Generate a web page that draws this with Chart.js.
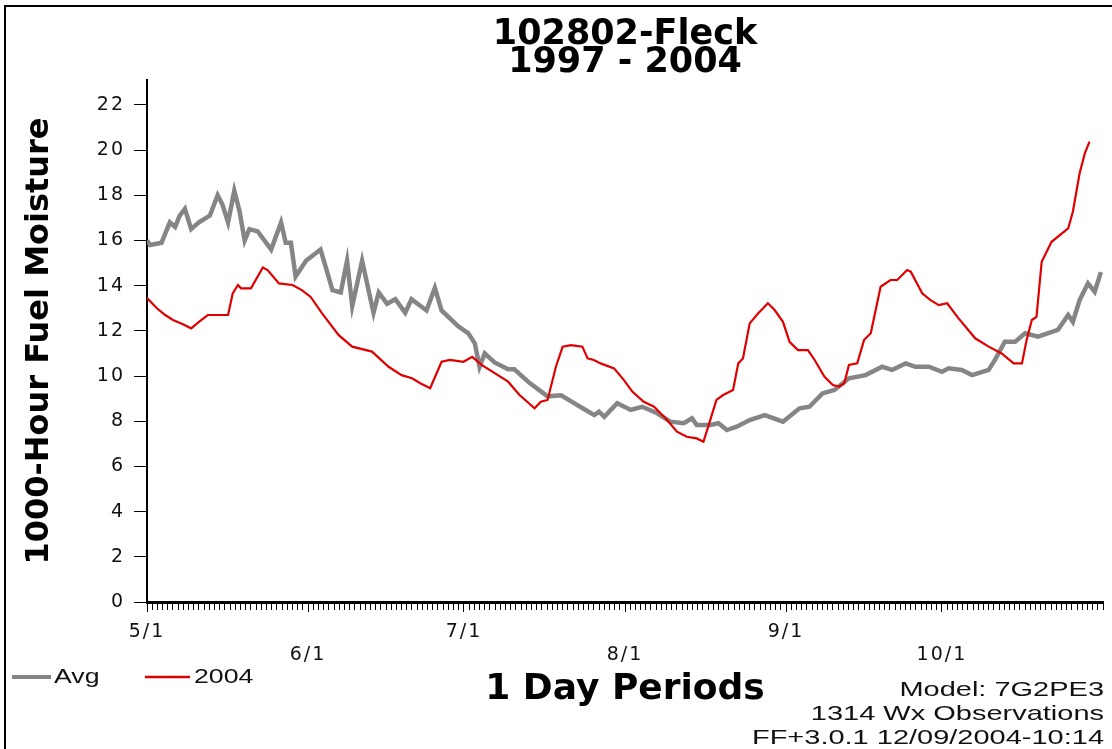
<!DOCTYPE html>
<html>
<head>
<meta charset="utf-8">
<script src="https://cdn.jsdelivr.net/npm/chart.js@4.4.1/dist/chart.umd.min.js"></script>
<style>
html,body{margin:0;padding:0;background:#fff;overflow:hidden}
canvas{display:block}
</style>
</head>
<body>
<canvas id="c" width="1112" height="749"></canvas>
<script>
// ---------- data ----------
const titleLines = ['102802-Fleck', '1997 - 2004'];
const yAxisTitle = '1000-Hour Fuel Moisture';
const xAxisTitle = '1 Day Periods';
const footnotes = ['Model: 7G2PE3', '1314 Wx Observations', 'FF+3.0.1 12/09/2004-10:14'];
const seriesNames = ['Avg', '2004'];

// day index counted from 5/1
const monthDays = [0, 31, 61, 92, 123, 153];
const monthLabels = ['5/1', '6/1', '7/1', '8/1', '9/1', '10/1'];
const lastDay = 184;
const yMin = 0;
const yMax = 23.1;
const yStep = 2;

const avgDays = [0, 0.6, 2.8, 4.4, 5.4, 6.3, 7.3, 8.5, 10, 12.1, 13.6, 14.5, 15.6, 16.8, 17.8, 18.8, 19.7,
  21.3, 23.9, 25.8, 26.7, 27.7, 28.6, 30.6, 33.4, 35.7, 37.3, 38.5, 39.5, 41.4, 43.6, 44.6, 46.2, 47.8,
  49.7, 50.9, 53.8, 55.4, 56.7, 59.9, 61.8, 63.1, 64, 65, 66.9, 69.5, 70.7, 73.6, 77.1, 79.7, 82.2, 84,
  86.1, 87, 88, 90.5, 93.1, 95.3, 98.2, 100.7, 103.3, 104.9, 105.8, 108.4, 110, 111.6, 113.5, 116, 118.9,
  122.4, 125.6, 127.5, 130, 132.3, 135.1, 138.3, 141.5, 143.4, 146, 147.9, 150.5, 153, 154.3, 156.8,
  158.8, 162, 163.2, 165.1, 167.1, 169, 171.5, 175.3, 177.3, 178.2, 179.5, 181.1, 182.4, 183.6];
const avgValues = [16.0, 15.8, 15.9, 16.8, 16.6, 17.1, 17.4, 16.5, 16.8, 17.1, 18.0, 17.6, 16.8, 18.2, 17.3, 16.0, 16.5,
  16.4, 15.6, 16.8, 15.9, 15.9, 14.4, 15.1, 15.6, 13.8, 13.7, 15.1, 13.1, 15.1, 12.8, 13.7, 13.2, 13.4,
  12.8, 13.4, 12.9, 13.9, 12.9, 12.2, 11.9, 11.45, 10.4, 11.0, 10.6, 10.3, 10.3, 9.7, 9.1, 9.15, 8.8, 8.55,
  8.27, 8.42, 8.2, 8.8, 8.5, 8.64, 8.35, 7.98, 7.91, 8.13, 7.83, 7.83, 7.91, 7.61, 7.76, 8.05, 8.27,
  7.98, 8.57, 8.64, 9.23, 9.38, 9.9, 10.04, 10.41, 10.27, 10.56, 10.41, 10.41, 10.19, 10.34, 10.27,
  10.04, 10.27, 10.71, 11.52, 11.52, 11.89, 11.74, 12.04, 12.7, 12.4, 13.36, 14.1, 13.73, 14.6];

const y2004Days = [0, 1.9, 3.5, 5, 6.8, 8.5, 10, 11.7, 15.6, 16.5, 17.5, 18.1, 20, 22.3, 23.2, 25.4, 28, 29.8,
  31.5, 33.7, 36.9, 39.5, 43.3, 46.5, 49, 51, 52.6, 54.5, 56.7, 58.3, 60.9, 62.6, 64.4, 69.5, 71.7, 74.6,
  75.8, 77.1, 78.7, 80, 81.6, 83.8, 84.8, 86, 87.3, 89.9, 91.8, 93.4, 95.6, 97.6, 100.1, 102, 103.9, 105.8,
  107.1, 108.4, 109.6, 110.9, 112.8, 113.8, 114.7, 116, 117.6, 119.5, 120.8, 122.4, 123.7, 125.3, 127.2,
  128.5, 130.4, 132, 133.2, 134.2, 135.1, 136.7, 138, 139.3, 141.2, 143.1, 144.4, 146.3, 147, 149.2, 150.8,
  152.4, 154, 156.2, 159.4, 162, 164.5, 166.8, 168.4, 169.3, 170.3, 171.2, 172.2, 174.1, 177.3, 178.2,
  179.5, 180.5, 181.4];
const y2004Values = [13.45, 13.0, 12.7, 12.48, 12.3, 12.11, 12.4, 12.7, 12.7, 13.66, 14.03, 13.88, 13.88, 14.8, 14.69, 14.1, 14.03, 13.8,
  13.5, 12.77, 11.81, 11.3, 11.08, 10.41, 10.04, 9.9, 9.68, 9.46, 10.63, 10.71, 10.63, 10.85, 10.49, 9.75, 9.16, 8.57,
  8.86, 8.94, 10.41, 11.3, 11.37, 11.3, 10.78, 10.71, 10.56, 10.34, 9.82, 9.31, 8.86, 8.64, 8.05, 7.54, 7.31, 7.24,
  7.09, 8.05, 8.94, 9.16, 9.38, 10.56, 10.78, 12.33, 12.77, 13.22, 12.92, 12.4, 11.5, 11.15, 11.15,
  10.71, 9.97, 9.6, 9.53, 9.68, 10.49, 10.56, 11.59, 11.89, 13.95, 14.25, 14.25, 14.69, 14.62, 13.66, 13.36,
  13.14, 13.22, 12.55, 11.67, 11.3, 11.0, 10.56, 10.56, 11.59, 12.48, 12.62, 15.06, 15.94, 16.53, 17.27,
  18.97, 19.85, 20.37];

// ---------- scale subclass: wide-spaced tick labels ----------
const TICK_SPACING = '2px';
class SpacedLinearScale extends Chart.LinearScale {
  drawLabels(chartArea) {
    const ctx = this.ctx;
    ctx.save();
    ctx.letterSpacing = TICK_SPACING;
    super.drawLabels(chartArea);
    ctx.restore();
  }
}
SpacedLinearScale.id = 'spacedLinear';
SpacedLinearScale.defaults = Chart.LinearScale.defaults;
Chart.register(SpacedLinearScale);

const toPoints = (xs, ys) => xs.map((d, i) => ({x: d, y: ys[i]}));

// ---------- decoration plugin ----------
const decor = {
  id: 'decor',
  beforeDraw(chart) {
    const ctx = chart.ctx;
    ctx.save();
    ctx.fillStyle = '#fff';
    ctx.fillRect(0, 0, chart.width, chart.height);
    ctx.strokeStyle = '#000';
    ctx.lineWidth = 2;
    ctx.beginPath();
    ctx.moveTo(5, chart.height);
    ctx.lineTo(5, 6);
    ctx.lineTo(chart.width, 6);
    ctx.stroke();
    ctx.restore();
  },
  afterDraw(chart) {
    const ctx = chart.ctx;
    ctx.save();
    // legend
    const legendPos = [{x0: 12, x1: 51, tx: 54}, {x0: 145, x1: 190, tx: 194}];
    const ly = 677;
    chart.data.datasets.forEach((ds, i) => {
      const p = legendPos[i];
      ctx.strokeStyle = ds.borderColor;
      ctx.lineWidth = i === 0 ? 4 : 2.5;
      ctx.beginPath();
      ctx.moveTo(p.x0, ly);
      ctx.lineTo(p.x1, ly);
      ctx.stroke();
      ctx.save();
      ctx.translate(p.tx, ly);
      ctx.scale(1.27, 1);
      ctx.font = '21px "Liberation Sans", Arial, sans-serif';
      ctx.fillStyle = '#111';
      ctx.textAlign = 'left';
      ctx.textBaseline = 'middle';
      ctx.fillText(ds.label, 0, 0);
      ctx.restore();
    });
    // footnotes
    footnotes.forEach((t, i) => {
      ctx.save();
      ctx.translate(1104, 690 + i * 24);
      ctx.scale(1.38, 1);
      ctx.font = '21px "Liberation Sans", Arial, sans-serif';
      ctx.fillStyle = '#111';
      ctx.textAlign = 'right';
      ctx.textBaseline = 'middle';
      ctx.fillText(t, 0, 0);
      ctx.restore();
    });
    ctx.restore();
  }
};

const tickFont = {family: 'DejaVu Sans', size: 19, lineHeight: 23 / 19};

new Chart(document.getElementById('c'), {
  type: 'line',
  data: {
    datasets: [
      {
        label: seriesNames[0],
        data: toPoints(avgDays, avgValues),
        borderColor: '#858585',
        borderWidth: 4.5,
        pointRadius: 0,
        tension: 0,
        order: 1
      },
      {
        label: seriesNames[1],
        data: toPoints(y2004Days, y2004Values),
        borderColor: '#e00000',
        borderWidth: 2.2,
        pointRadius: 0,
        tension: 0,
        order: 0
      }
    ]
  },
  options: {
    responsive: false,
    animation: false,
    devicePixelRatio: 1,
    layout: {padding: {left: 8, right: 4, top: 0, bottom: 0}},
    plugins: {
      legend: {display: false},
      tooltip: {enabled: false},
      title: {
        display: true,
        text: titleLines,
        fullSize: false,
        color: '#000',
        font: {family: 'DejaVu Sans', weight: 'bold', size: 35, lineHeight: 28 / 35},
        padding: {top: 21, bottom: 3}
      }
    },
    scales: {
      x: {
        type: 'spacedLinear',
        min: 0,
        max: lastDay,
        afterFit(scale) { scale.height = 147; },
        border: {display: true, color: '#000', width: 3},
        grid: {
          drawOnChartArea: false,
          drawTicks: true,
          tickLength: 10,
          tickWidth: 1,
          tickColor: '#000',
          tickBorderDash: (ctx) => (ctx.tick && monthDays.includes(ctx.tick.value)) ? [] : [6, 100]
        },
        ticks: {
          stepSize: 1,
          autoSkip: false,
          maxRotation: 0,
          minRotation: 0,
          padding: 9,
          color: '#111',
          font: tickFont,
          callback: (value) => {
            const k = monthDays.indexOf(value);
            if (k < 0) return '';
            return k % 2 === 0 ? monthLabels[k] : ['', monthLabels[k]];
          }
        },
        title: {
          display: true,
          text: xAxisTitle,
          color: '#000',
          font: {family: 'DejaVu Sans', weight: 'bold', size: 36, lineHeight: 1.2},
          padding: {top: 0, bottom: 38}
        }
      },
      y: {
        type: 'spacedLinear',
        min: yMin,
        max: yMax,
        afterFit(scale) { scale.width = 139; },
        border: {display: true, color: '#000', width: 2},
        grid: {
          drawOnChartArea: false,
          drawTicks: true,
          tickLength: 13,
          tickWidth: 1,
          tickColor: '#000'
        },
        ticks: {
          stepSize: yStep,
          includeBounds: false,
          padding: 9,
          color: '#111',
          font: tickFont
        },
        title: {
          display: true,
          text: yAxisTitle,
          color: '#000',
          font: {family: 'DejaVu Sans', weight: 'bold', size: 32, lineHeight: 1.2},
          padding: {top: 12, bottom: 0}
        }
      }
    }
  },
  plugins: [decor]
});
</script>
</body>
</html>
